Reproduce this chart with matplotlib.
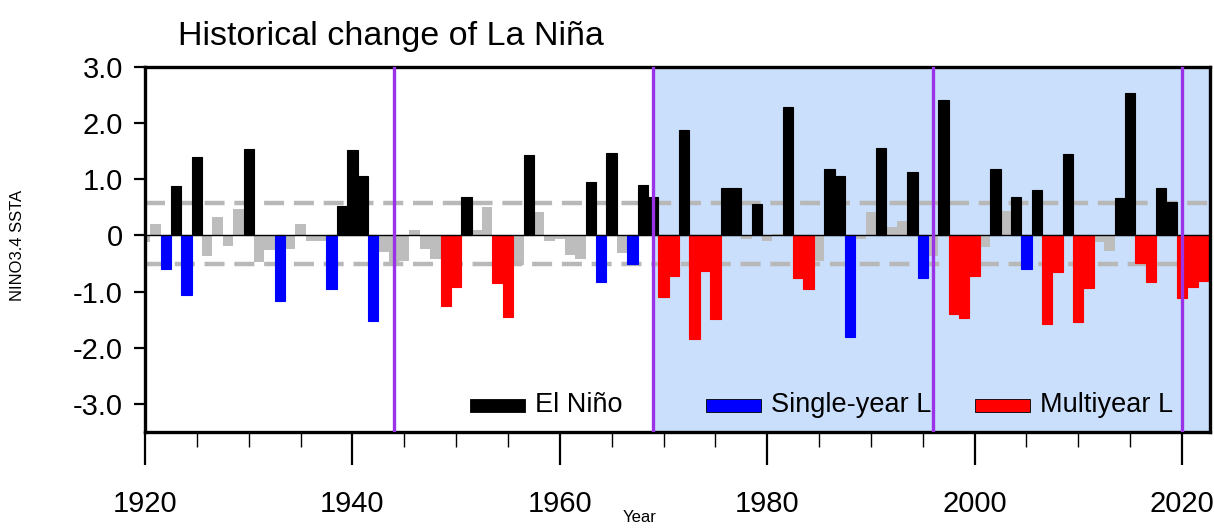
#!/usr/bin/env python3
"""Historical change of La Nina - NINO3.4 SSTA bar chart."""
import matplotlib
matplotlib.use("Agg")
import matplotlib.pyplot as plt
from matplotlib.patches import Rectangle
import numpy as np

plt.rcParams['font.family'] = ['Liberation Sans', 'DejaVu Sans']

# winter-start years
years = np.arange(1920, 2023)

# NINO3.4 SSTA, one value per year
ssta = [
    -0.12, 0.20, -0.59, 0.88, -1.06, 1.39, -0.36, 0.32, -0.18, 0.47,   # 1920s
    1.54, -0.47, -0.26, -1.16, -0.24, 0.20, -0.09, -0.10, -0.95, 0.53,   # 1930s
    1.52, 1.05, -1.53, -0.30, -0.47, -0.45, 0.10, -0.24, -0.42, -1.26,   # 1940s
    -0.91, 0.69, 0.09, 0.50, -0.84, -1.45, -0.53, 1.43, 0.42, -0.09,     # 1950s
    -0.07, -0.34, -0.42, 0.95, -0.82, 1.47, -0.31, -0.51, 0.89, 0.69,    # 1960s
    -1.09, -0.72, 1.88, -1.84, -0.64, -1.49, 0.85, 0.85, -0.06, 0.56,    # 1970s
    -0.09, 0.03, 2.29, -0.76, -0.96, -0.46, 1.18, 1.06, -1.81, -0.06,    # 1980s
    0.41, 1.56, 0.15, 0.25, 1.13, -0.76, -0.36, 2.42, -1.39, -1.47,      # 1990s
    -0.72, -0.21, 1.19, 0.43, 0.69, -0.60, 0.81, -1.58, -0.65, 1.45,     # 2000s
    -1.54, -0.94, -0.12, -0.28, 0.66, 2.53, -0.49, -0.82, 0.85, 0.59,    # 2010s
    -1.12, -0.92, -0.81,                                                 # 2020s
]

# N = neutral, E = El Nino, S = single-year La Nina, M = multiyear La Nina
event = list(
    "NNSESENNNN"
    "ENNSNNNNSE"
    "EESNNNNNNM"
    "MENNMMNENN"
    "NNNESENSEE"
    "MMEMMMEENE"
    "NNEMMNEESN"
    "NENNESNEMM"
    "MNENESEMME"
    "MMNNEEMMEE"
    "MMM"
)

upper_thresh = 0.58
lower_thresh = -0.51
period_breaks = [1944, 1969, 1996, 2020]
shade_start = 1969

colors = {'N': '#bdbdbd', 'E': 'black', 'S': '#0000ff', 'M': '#ff0000'}
legend_items = [('El Niño', 'E'), ('Single-year L', 'S'), ('Multiyear L', 'M')]

W, H = 1214, 529
fig = plt.figure(figsize=(W / 100, H / 100), dpi=100)
ax = fig.add_axes([145 / W, 1 - 432 / H, 1065 / W, 365 / H])

x0, x1 = 1920, 2022.7
ax.axvspan(shade_start, x1 + 1, color='#cadffb', zorder=0, lw=0)

ax.axhline(upper_thresh, color='#b8b8b8', lw=3.2, ls=(0, (4.5, 2.2)), zorder=1)
ax.axhline(lower_thresh, color='#b8b8b8', lw=3.2, ls=(0, (4.5, 2.2)), zorder=1)

ssta = np.array(ssta)
ev = np.array(event)
for code in ['N', 'E', 'S', 'M']:
    m = ev == code
    ax.bar(years[m], ssta[m], width=1.0, color=colors[code],
           edgecolor=colors[code], linewidth=0.8 if code != 'N' else 0,
           zorder=0.5 if code == 'N' else 2)

ax.axhline(0, color='black', lw=1.0, zorder=3)

for yb in period_breaks:
    ax.axvline(yb, color='#9a33e8', lw=2.4, zorder=4)

ax.set_xlim(x0, x1)
ax.set_ylim(-3.5, 3.0)

ax.set_xticks(np.arange(1920, 2021, 20))
ax.set_xticks(np.arange(1920, 2023, 5), minor=True)
ax.set_yticks([3, 2, 1, 0, -1, -2, -3])
ax.set_yticklabels(['3.0', '2.0', '1.0', '0', '-1.0', '-2.0', '-3.0'])
ax.tick_params(axis='x', which='major', length=24, width=1.6, pad=18, labelsize=21)
ax.tick_params(axis='x', which='minor', length=11, width=1.0)
ax.tick_params(axis='y', which='major', length=8, width=1.6, pad=8, labelsize=21)
ax.tick_params(axis='y', which='minor', length=0)
for sp in ax.spines.values():
    sp.set_linewidth(2.4)

# legend drawn inside the bottom of the panel
leg_x = [470, 706, 975]
for (label, code), px in zip(legend_items, leg_x):
    ax.add_patch(Rectangle(((px - 145) / 1065, (432 - 412) / 365), 55 / 1065, 13 / 365,
                           transform=ax.transAxes, facecolor=colors[code],
                           edgecolor='black', lw=0.6, zorder=5))
    ax.text((px + 65 - 145) / 1065, (432 - 405) / 365, label, transform=ax.transAxes,
            ha='left', va='center', fontsize=19.5, zorder=5)

fig.text(178 / W, 1 - 36 / H, 'Historical change of La Niña', fontsize=24.5,
         ha='left', va='center')
fig.text(18 / W, 1 - 245 / H, 'NINO3.4 SSTA', rotation=90, fontsize=12,
         ha='center', va='center')
fig.text(640 / W, 1 - 518 / H, 'Year', fontsize=12, ha='center', va='center')

plt.savefig('out.png', dpi=100)
plt.close()
